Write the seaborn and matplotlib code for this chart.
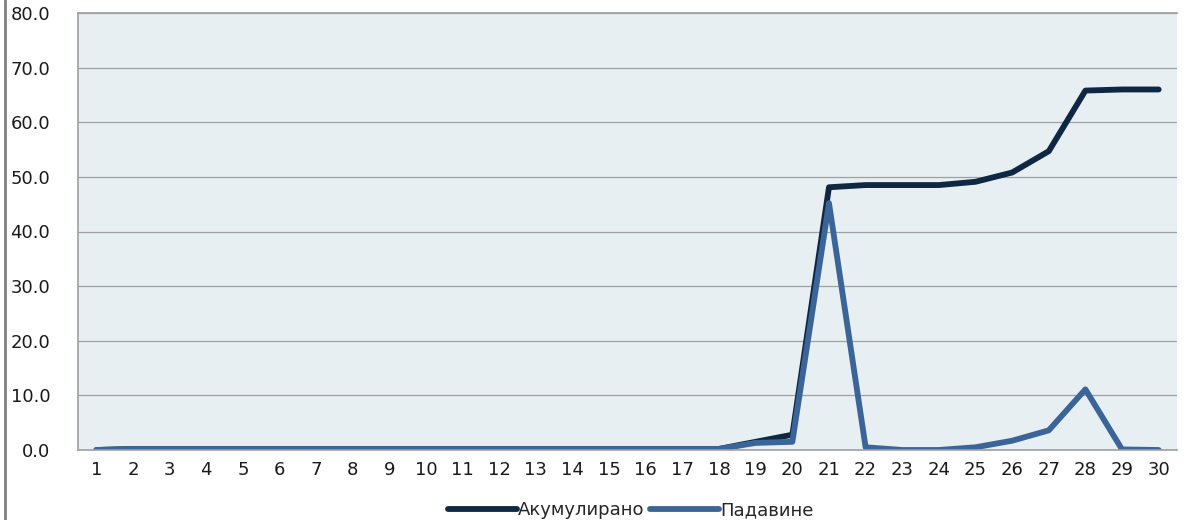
import matplotlib
matplotlib.use("Agg")
import matplotlib.pyplot as plt
import seaborn as sns
import pandas as pd
from matplotlib.lines import Line2D

days = list(range(1, 31))
akumulirano = [0.0, 0.2, 0.2, 0.2, 0.2, 0.2, 0.2, 0.2, 0.2, 0.2,
               0.2, 0.2, 0.2, 0.2, 0.2, 0.2, 0.2, 0.2, 1.5, 2.8,
               48.1, 48.5, 48.5, 48.5, 49.1, 50.8, 54.7, 65.8, 66.0, 66.0]
padavine = [0.0, 0.2, 0.2, 0.2, 0.2, 0.2, 0.2, 0.2, 0.2, 0.2,
            0.2, 0.2, 0.2, 0.2, 0.2, 0.2, 0.2, 0.2, 1.3, 1.5,
            45.2, 0.5, 0.0, 0.0, 0.5, 1.7, 3.6, 11.1, 0.1, 0.0]
series_names = ["Акумулирано", "Падавине"]
colors = ["#0e2742", "#3b6599"]
y_ticks = [0, 10, 20, 30, 40, 50, 60, 70, 80]

df = pd.DataFrame({
    "day": days * 2,
    "value": akumulirano + padavine,
    "series": [series_names[0]] * 30 + [series_names[1]] * 30,
})

sns.set_theme(style="white")
plt.rcParams["font.family"] = ["DejaVu Sans"]

fig = plt.figure(figsize=(11.95, 5.2), dpi=100)
ax = fig.add_axes([78 / 1195, 1 - 450 / 520, (1177 - 78) / 1195, (450 - 13) / 520])
ax.set_facecolor("#e8eff3")

sns.lineplot(data=df, x="day", y="value", hue="series", palette=colors,
             linewidth=4.2, ax=ax, legend=False, solid_capstyle="round")

ax.set_xlim(0.5, 30.5)
ax.set_ylim(0, 80)
ax.set_yticks(y_ticks)
ax.set_yticklabels([f"{v:.1f}" for v in y_ticks])
ax.set_xticks(days)
ax.set_xticklabels([str(d) for d in days])
ax.grid(axis="y", color="#a0a0a0", linewidth=0.9)
ax.set_axisbelow(True)
ax.set_xlabel("")
ax.set_ylabel("")
ax.tick_params(axis="both", length=0, labelsize=13, colors="#1a1a1a")
ax.tick_params(axis="x", pad=8)
ax.tick_params(axis="y", pad=20)

for s in ["left", "bottom", "top"]:
    ax.spines[s].set_color("#a0a0a0")
    ax.spines[s].set_linewidth(1.2)
ax.spines["right"].set_visible(False)

handles = [Line2D([0], [0], color=c, linewidth=4.2, solid_capstyle="round") for c in colors]
fig.legend(handles, series_names, loc="center", bbox_to_anchor=(631 / 1195, 1 - 510 / 520),
           ncol=2, frameon=False, fontsize=13, handlelength=3.8, handletextpad=0.1,
           columnspacing=0.3)

fig.add_artist(Line2D([5 / 1195, 5 / 1195], [0, 1], transform=fig.transFigure,
                      color="#808080", linewidth=2))

fig.savefig("out.png", dpi=100)
